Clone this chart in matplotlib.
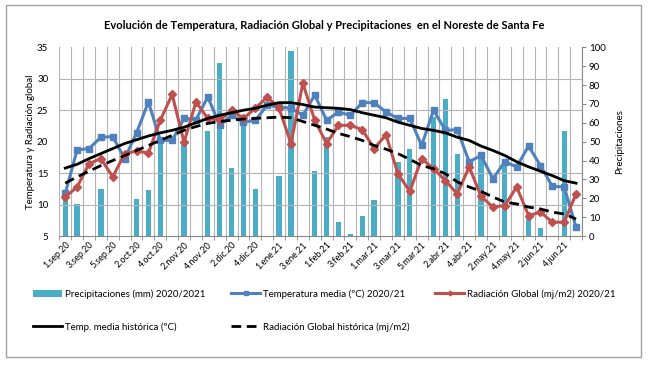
import matplotlib.pyplot as plt
import numpy as np
from matplotlib.patches import Rectangle

semanas = ["1.sep.20", "2.sep.20", "3.sep.20", "4.sep.20", "5.sep.20",
           "1.oct.20", "2.oct.20", "3.oct.20", "4.oct.20",
           "1.nov.20", "2.nov.20", "3.nov.20", "4.nov.20",
           "1.dic.20", "2.dic.20", "3.dic.20", "4.dic.20", "5.dic.20",
           "1.ene.21", "2.ene.21", "3.ene.21", "4.ene.21",
           "1.feb.21", "2.feb.21", "3.feb.21", "4.feb.21",
           "1.mar.21", "2.mar.21", "3.mar.21", "4.mar.21", "5.mar.21",
           "1.abr.21", "2.abr.21", "3.abr.21", "4.abr.21",
           "1.may.21", "2.may.21", "3.may.21", "4.may.21",
           "1.jun.21", "2.jun.21", "3.jun.21", "4.jun.21", "5.jun.21"]

precipitaciones = [19.0, 16.9, 0, 24.8, 0, 0, 19.4, 24.3, 51.0, 0, 49.0, 0,
                   55.6, 91.6, 36.3, 59.5, 24.7, 0, 31.7, 98.3, 0, 34.5,
                   52.5, 7.6, 0.8, 10.7, 19.0, 0, 39.3, 46.3, 0, 63.0,
                   72.7, 43.3, 0, 41.9, 0, 40.1, 0, 10.2, 4.1, 0, 55.5, 0]

temp_media = [11.8, 18.7, 18.9, 20.7, 20.8, 17.3, 21.4, 26.3, 20.2, 20.2, 23.7, 23.5,
              27.1, 22.6, 24.2, 23.1, 23.4, 25.8, 25.5, 25.3, 24.2, 27.4,
              23.4, 24.7, 24.2, 26.2, 26.2, 24.7, 23.7, 23.7, 19.4, 25.0,
              21.8, 21.9, 16.8, 17.8, 14.1, 16.8, 16.0, 19.3, 16.2, 12.9, 12.8, 6.4]

radiacion = [11.2, 12.8, 16.5, 17.3, 14.4, 18.1, 18.5, 18.2, 23.4, 27.5, 19.9, 26.3,
             23.7, 23.4, 25.0, 23.7, 25.3, 27.1, 25.3, 19.7, 29.3, 23.4,
             19.7, 22.6, 22.6, 21.9, 18.9, 21.1, 14.9, 12.1, 17.3, 15.7,
             13.8, 11.7, 16.0, 11.3, 9.6, 9.85, 12.8, 8.25, 8.8, 7.2, 7.2, 11.7]

temp_historica = [15.8, 16.4, 17.3, 18.1, 18.9, 19.7, 20.3, 20.9, 21.4, 21.8, 22.3, 23.0,
                  23.7, 24.2, 24.6, 25.0, 25.3, 25.8, 26.2, 26.2, 25.9, 25.5,
                  25.4, 25.3, 25.1, 24.6, 24.2, 23.8, 23.1, 22.6, 22.1, 21.8,
                  21.4, 20.7, 20.2, 19.3, 18.6, 17.8, 16.8, 16.0, 15.3, 14.6, 13.8, 13.4]

rad_historica = [13.4, 14.4, 15.3, 16.2, 17.0, 17.8, 18.6, 19.4, 20.2, 21.0, 21.8, 22.4,
                 22.9, 23.2, 23.4, 23.6, 23.7, 23.8, 23.9, 23.8, 23.2, 22.6,
                 22.0, 21.3, 20.8, 20.2, 19.4, 18.8, 18.1, 17.2, 16.2, 15.7,
                 14.9, 13.6, 12.8, 12.1, 11.2, 10.4, 10.1, 9.6, 9.3, 8.8, 8.5, 7.7]

plt.rcParams['font.family'] = ['Lato', 'DejaVu Sans']

X = np.arange(len(semanas))
fig = plt.figure(figsize=(6.49, 3.65), dpi=100)
fig.patches.append(Rectangle((0.009, 0.022), 0.979, 0.963, transform=fig.transFigure,
                             fill=False, edgecolor="#a0a0a0", linewidth=1))

axb = fig.add_axes([0.0914, 0.3534, 0.8054, 0.517])
ax = axb.twinx()
# lines on top of the bars, left scale on the left
ax.set_zorder(axb.get_zorder() + 1)
ax.patch.set_visible(False)
ax.yaxis.tick_left()
ax.yaxis.set_label_position("left")
axb.yaxis.tick_right()
axb.yaxis.set_label_position("right")

b = axb.bar(X, precipitaciones, width=0.45, color="#4BACC6",
            label="Precipitaciones (mm) 2020/2021")
axb.set_ylim(0, 100)
axb.set_yticks(range(0, 101, 10))
axb.set_yticks(np.linspace(0, 100, 7), minor=True)
axb.set_xticks(np.arange(-0.5, len(X), 1), minor=True)
axb.grid(which="minor", color="#b4b4b4", linewidth=0.8)
axb.tick_params(axis="y", which="minor", length=0)
axb.tick_params(axis="x", which="minor", length=3, color="#888888")
axb.tick_params(axis="y", which="major", length=3, color="#888888", labelsize=7, pad=2)
axb.set_ylabel("Precipitaciones", fontsize=7, labelpad=7)

l1, = ax.plot(X, temp_media, color="#4F81BD", linewidth=2.2, marker="s", markersize=4.5,
              label="Temperatura media (ºC) 2020/21")
l2, = ax.plot(X, radiacion, color="#C0504D", linewidth=2.2, marker="D", markersize=4,
              label="Radiación Global (mj/m2) 2020/21")
l3, = ax.plot(X, temp_historica, color="black", linewidth=2,
              label="Temp. media histórica (ºC)")
l4, = ax.plot(X, rad_historica, color="black", linewidth=2, linestyle=(0, (3.5, 2)),
              label="Radiación Global histórica (mj/m2)")
ax.set_ylim(5, 35)
ax.set_yticks(range(5, 36, 5))
ax.tick_params(axis="y", length=0, labelsize=7, pad=8)
ax.set_ylabel("Temperatura y Radiación global", fontsize=7, labelpad=1)

ax.set_xlim(-0.5, len(X) - 0.5)
axb.set_xlim(-0.5, len(X) - 0.5)
axb.set_xticks(X[::2])
axb.set_xticklabels(semanas[::2], rotation=45, ha="right", rotation_mode="anchor", fontsize=6.5)
axb.tick_params(axis="x", which="major", length=0, pad=3)

for a in (ax, axb):
    for s in a.spines.values():
        s.set_visible(False)
axb.spines["bottom"].set_visible(True)
axb.spines["bottom"].set_color("#888888")
axb.spines["right"].set_visible(True)
axb.spines["right"].set_color("#888888")

fig.text(0.5, 0.93, "Evolución de Temperatura, Radiación Global y Precipitaciones  en el Noreste de Santa Fe",
         ha="center", va="center", fontsize=8, fontweight="bold")

fig.legend([b, l3, l1, l4, l2],
           ["Precipitaciones (mm) 2020/2021", "Temp. media histórica (ºC)",
            "Temperatura media (ºC) 2020/21", "Radiación Global histórica (mj/m2)",
            "Radiación Global (mj/m2) 2020/21"],
           ncol=3, loc="upper left", bbox_to_anchor=(0.045, 0.218), frameon=False,
           fontsize=7, handlelength=3.0, handletextpad=0.3, labelspacing=2.4,
           columnspacing=2.6, markerscale=0.6, borderaxespad=0)

fig.savefig("out.png", dpi=100)
